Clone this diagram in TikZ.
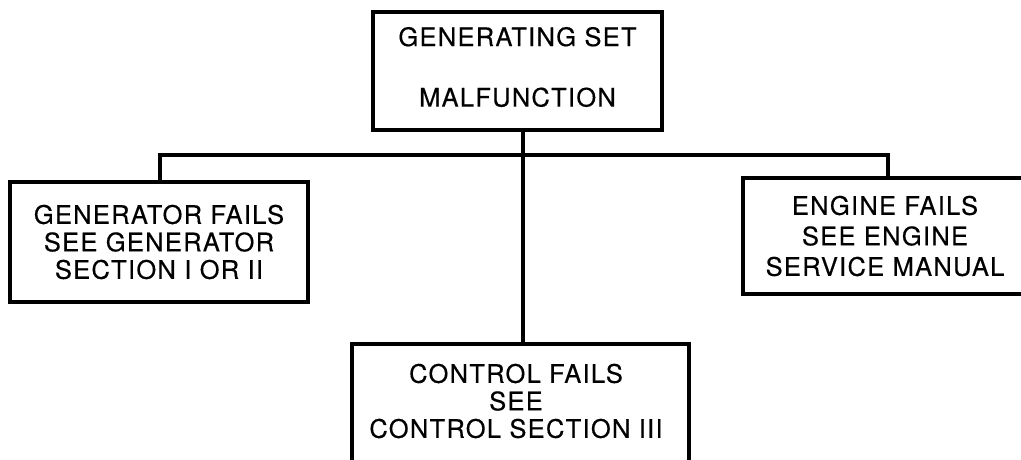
\documentclass[tikz,border=0pt]{standalone}
\usepackage{fontspec}
\setmainfont{TeX Gyre Heros}[LetterSpace=5, FakeBold=0.35]
\begin{document}
\begin{tikzpicture}[x=1pt,y=-1pt,
  box/.style={draw, line width=3.2pt, rectangle, inner sep=0pt},
  txt/.style={inner sep=0pt, align=center, font=\fontsize{25.5}{27.5}\selectfont},
  link/.style={line width=3.2pt}]
\useasboundingbox (0,0) rectangle (1021,459);
\clip (0,0) rectangle (1021,459);
\node[box, minimum width=289, minimum height=118] (top) at (517.5,71) {};
\node[txt] (toptext) at (517.5,67) {GENERATING SET\\[33pt]MALFUNCTION};
\node[box, txt, minimum width=298, minimum height=120] (gen) at (159,242)
  {GENERATOR FAILS\\SEE GENERATOR\\SECTION I OR II};
\node[box, txt, minimum width=284, minimum height=116, font=\fontsize{25.5}{30.5}\selectfont] (eng) at (885,236)
  {ENGINE FAILS\\SEE ENGINE\\SERVICE MANUAL};
\node[box, minimum width=337, minimum height=130] (ctrl) at (520.5,409) {};
\node[txt] (ctrltext) at (516,401) {CONTROL FAILS\\SEE\\CONTROL SECTION III};
\coordinate (j) at (523,155);
\coordinate (L) at (160,155);
\coordinate (R) at (888,155);
\draw[link] (j |- top.south) -- (j |- ctrl.north);
\draw[link] (L |- gen.north) -- (L) -- (R) -- (R |- eng.north);
\end{tikzpicture}
\end{document}
